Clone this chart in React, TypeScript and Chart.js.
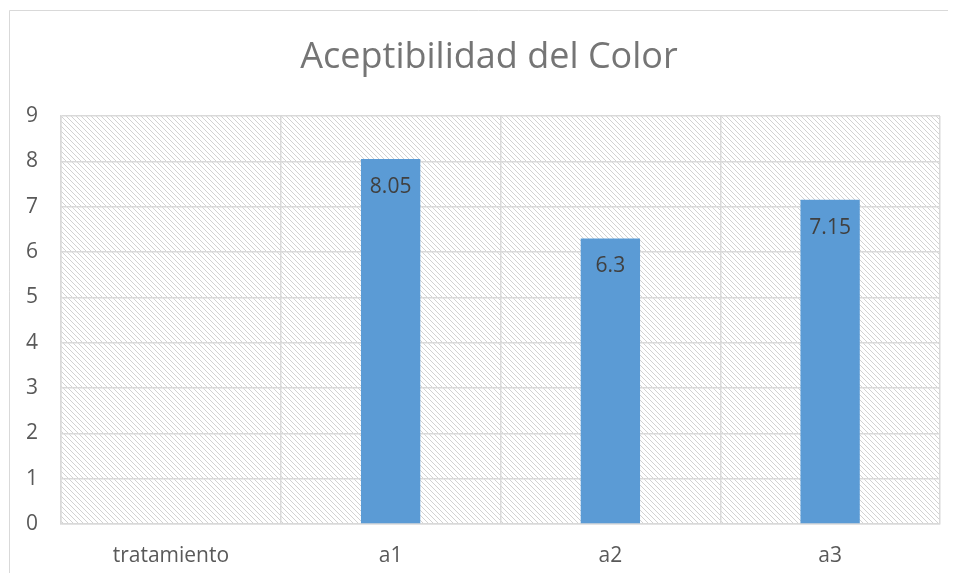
import React, { useEffect, useRef } from "react";
import { Chart, registerables } from "chart.js";

Chart.register(...registerables);

const categories = ["tratamiento", "a1", "a2", "a3"];
const values: (number | null)[] = [null, 8.05, 6.3, 7.15];
const yTicks = [0, 1, 2, 3, 4, 5, 6, 7, 8, 9];
const chartTitle = "Aceptibilidad del Color";

const FONT = "'Open Sans', 'Liberation Sans', sans-serif";

function makePattern(): CanvasPattern | string {
  const c = document.createElement("canvas");
  c.width = 5;
  c.height = 5;
  const g = c.getContext("2d");
  if (!g) return "#fff";
  g.fillStyle = "#ffffff";
  g.fillRect(0, 0, 5, 5);
  g.fillStyle = "#d2d2d2";
  for (let i = 0; i < 5; i++) g.fillRect(i, i, 1, 1);
  const p = g.createPattern(c, "repeat");
  return p || "#fff";
}

const bgPlugin = {
  id: "bgPlugin",
  beforeDraw(chart: any) {
    const { ctx, chartArea, width, height } = chart;
    ctx.save();
    ctx.fillStyle = "#ffffff";
    ctx.fillRect(0, 0, width, height);
    ctx.strokeStyle = "#d9d9d9";
    ctx.lineWidth = 1;
    ctx.beginPath();
    ctx.moveTo(1.5, height);
    ctx.lineTo(1.5, 2.5);
    ctx.lineTo(width, 2.5);
    ctx.stroke();
    ctx.fillStyle = makePattern();
    ctx.fillRect(chartArea.left, chartArea.top, chartArea.right - chartArea.left, chartArea.bottom - chartArea.top);
    // title
    ctx.fillStyle = "#757575";
    ctx.font = `36px ${FONT}`;
    ctx.textAlign = "center";
    ctx.textBaseline = "alphabetic";
    ctx.fillText(chartTitle, 481, 60);
    ctx.restore();
  },
};

const labelPlugin = {
  id: "labelPlugin",
  afterDatasetsDraw(chart: any) {
    const { ctx } = chart;
    const meta = chart.getDatasetMeta(0);
    ctx.save();
    ctx.fillStyle = "#404040";
    ctx.font = `21px ${FONT}`;
    ctx.textAlign = "center";
    ctx.textBaseline = "middle";
    meta.data.forEach((el: any, i: number) => {
      const v = values[i];
      if (v === null || v === undefined) return;
      ctx.fillText(String(v), el.x, el.y + 28);
    });
    ctx.restore();
  },
};

export default function App() {
  const ref = useRef<HTMLCanvasElement>(null);
  useEffect(() => {
    if (!ref.current) return;
    const chart = new Chart(ref.current, {
      type: "bar",
      data: {
        labels: categories,
        datasets: [
          {
            data: values as any,
            backgroundColor: "#5b9bd5",
            barPercentage: 0.27,
            categoryPercentage: 1,
          },
        ],
      },
      options: {
        animation: false,
        responsive: false,
        layout: { padding: { left: 0, right: 8, top: 108, bottom: 0 } },
        plugins: {
          legend: { display: false },
          tooltip: { enabled: false },
          title: { display: false },
        },
        scales: {
          x: {
            grid: { color: "#d9d9d9", lineWidth: 1.5, offset: true, drawTicks: false },
            border: { color: "#d9d9d9", width: 1.5 },
            ticks: { color: "#595959", font: { family: FONT, size: 21 }, padding: 19 },
            afterFit: (s: any) => {
              s.height = 49;
            },
          },
          y: {
            min: 0,
            max: 9,
            afterBuildTicks: (s: any) => {
              s.ticks = yTicks.map((v) => ({ value: v }));
            },
            grid: { color: "#d9d9d9", lineWidth: 1.5, drawTicks: false },
            border: { color: "#d9d9d9", width: 1.5 },
            ticks: { color: "#595959", font: { family: FONT, size: 21 }, padding: 23 },
            afterFit: (s: any) => {
              s.width = 53;
            },
          },
        },
      },
      plugins: [bgPlugin, labelPlugin],
    });
    return () => chart.destroy();
  }, []);
  return <canvas ref={ref} width={940} height={565} style={{ display: "block" }} />;
}
